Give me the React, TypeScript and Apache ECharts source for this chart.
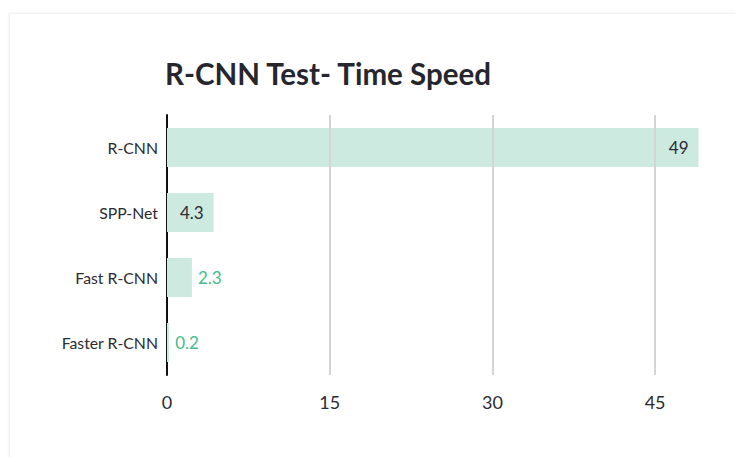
import React, { useEffect, useRef } from "react";
import * as echarts from "echarts";

const categories = ["R-CNN", "SPP-Net", "Fast R-CNN", "Faster R-CNN"];
const values = [49, 4.3, 2.3, 0.2];
const gridValues = [15, 30, 45];
const axisMax = 49;
const tickStep = 15;
const titleText = "R-CNN Test- Time Speed";

const FONT = "Lato, 'Noto Sans', sans-serif";

export default function App() {
  const ref = useRef<HTMLDivElement>(null);
  useEffect(() => {
    if (!ref.current) return;
    const chart = echarts.init(ref.current, undefined, { renderer: "svg" });
    const data = values.map((v) => {
      const inside = v > 3;
      return {
        value: v,
        label: inside
          ? { position: "insideRight", distance: 10, color: "#2b2b33" }
          : { position: "right", distance: 6, color: "#45bb8f" },
      };
    });
    chart.setOption({
      animation: false,
      textStyle: { fontFamily: FONT },
      title: {
        text: titleText,
        left: 160,
        top: 53,
        textStyle: { fontFamily: FONT, fontSize: 29.5, fontWeight: "bold", color: "#26262e" },
      },
      grid: { left: 167, right: 735 - 698.5, top: 115, bottom: 457 - 375, containLabel: false },
      xAxis: {
        type: "value",
        min: 0,
        max: axisMax,
        interval: tickStep,
        axisLine: { show: false },
        axisTick: { show: false },
        splitLine: { show: false },
        axisLabel: {
          showMaxLabel: false,
          margin: 18,
          fontSize: 18,
          color: "#2b2b33",
          fontFamily: FONT,
        },
      },
      yAxis: {
        type: "category",
        data: categories,
        inverse: true,
        axisLine: { show: true, lineStyle: { color: "#111", width: 2 } },
        axisTick: { show: false },
        axisLabel: { fontSize: 15.8, color: "#2b2b33", margin: 9, fontFamily: FONT },
      },
      series: [
        {
          type: "bar",
          data,
          barWidth: "60%",
          itemStyle: { color: "#cdeae1" },
          label: { show: true, fontSize: 17, fontFamily: FONT },
          markLine: {
            silent: true,
            symbol: "none",
            label: { show: false },
            lineStyle: { color: "#d4d4d4", width: 2, type: "solid" },
            data: gridValues.map((g) => ({ xAxis: g })),
          },
        },
      ],
    });
    return () => chart.dispose();
  }, []);
  return (
    <div style={{ position: "fixed", left: 0, top: 0, width: 735, height: 457, overflow: "hidden", background: "#fff" }}>
      <div
        style={{
          position: "absolute",
          left: 9,
          top: 13,
          width: 800,
          height: 500,
          background: "#fff",
          boxShadow: "0 0 3px rgba(0,0,0,0.07)",
          border: "1px solid #f2f2f2",
        }}
      />
      <div ref={ref} style={{ position: "absolute", left: 0, top: 0, width: 735, height: 457 }} />
    </div>
  );
}
